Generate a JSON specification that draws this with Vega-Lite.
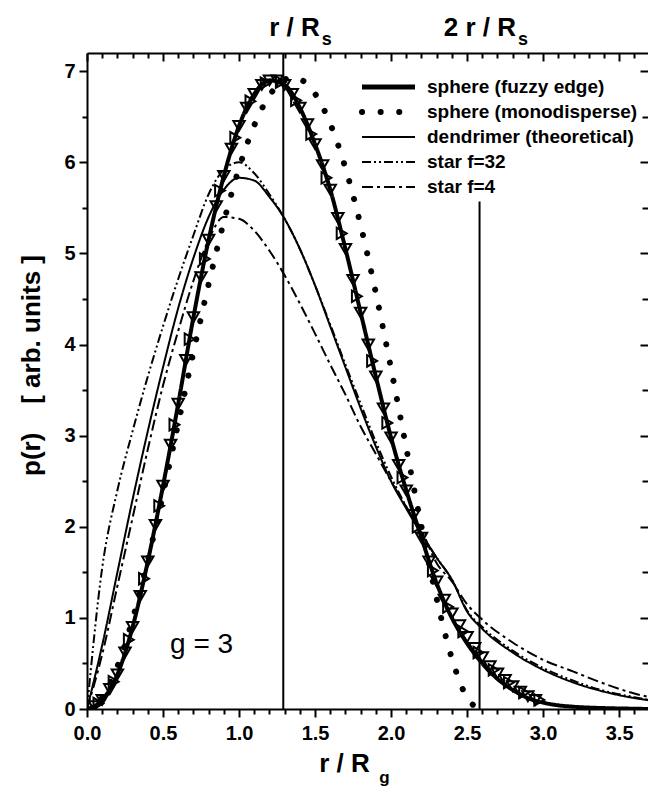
{
 "$schema": "https://vega.github.io/schema/vega-lite/v6.json",
 "width": 561, "height": 656,
 "autosize": {"type": "none"},
 "padding": {"left": 87, "top": 53, "right": 0, "bottom": 80},
 "background": "white",
 "config": {
  "view": {"stroke": null},
  "font": "Liberation Sans",
  "axis": {"grid": false, "domainColor": "black", "tickColor": "black", "labelColor": "black", "titleColor": "black", "domainWidth": 2, "tickWidth": 2, "labelFont": "Liberation Sans", "labelFontWeight": "bold", "labelFontSize": 20, "titleFont": "Liberation Sans", "titleFontWeight": "bold", "titleFontSize": 22}
 },
 "datasets": {
  "curves": [
   {"s":"sphere (fuzzy edge)","x":0,"y":0},{"s":"sphere (fuzzy edge)","x":0.1,"y":0.1},{"s":"sphere (fuzzy edge)","x":0.2,"y":0.38},{"s":"sphere (fuzzy edge)","x":0.3,"y":0.9},{"s":"sphere (fuzzy edge)","x":0.4,"y":1.62},{"s":"sphere (fuzzy edge)","x":0.5,"y":2.45},{"s":"sphere (fuzzy edge)","x":0.6,"y":3.35},{"s":"sphere (fuzzy edge)","x":0.7,"y":4.3},{"s":"sphere (fuzzy edge)","x":0.8,"y":5.15},{"s":"sphere (fuzzy edge)","x":0.9,"y":5.85},{"s":"sphere (fuzzy edge)","x":1.0,"y":6.4},{"s":"sphere (fuzzy edge)","x":1.1,"y":6.75},{"s":"sphere (fuzzy edge)","x":1.2,"y":6.9},{"s":"sphere (fuzzy edge)","x":1.3,"y":6.85},{"s":"sphere (fuzzy edge)","x":1.4,"y":6.6},{"s":"sphere (fuzzy edge)","x":1.5,"y":6.2},{"s":"sphere (fuzzy edge)","x":1.6,"y":5.7},{"s":"sphere (fuzzy edge)","x":1.7,"y":5.05},{"s":"sphere (fuzzy edge)","x":1.8,"y":4.35},{"s":"sphere (fuzzy edge)","x":1.9,"y":3.65},{"s":"sphere (fuzzy edge)","x":2.0,"y":2.98},{"s":"sphere (fuzzy edge)","x":2.1,"y":2.4},{"s":"sphere (fuzzy edge)","x":2.2,"y":1.88},{"s":"sphere (fuzzy edge)","x":2.3,"y":1.38},{"s":"sphere (fuzzy edge)","x":2.4,"y":1.0},{"s":"sphere (fuzzy edge)","x":2.5,"y":0.72},{"s":"sphere (fuzzy edge)","x":2.6,"y":0.5},{"s":"sphere (fuzzy edge)","x":2.7,"y":0.33},{"s":"sphere (fuzzy edge)","x":2.8,"y":0.21},{"s":"sphere (fuzzy edge)","x":2.9,"y":0.12},{"s":"sphere (fuzzy edge)","x":3.0,"y":0.07},{"s":"sphere (fuzzy edge)","x":3.1,"y":0.04},{"s":"sphere (fuzzy edge)","x":3.2,"y":0.025},{"s":"sphere (fuzzy edge)","x":3.4,"y":0.01},{"s":"sphere (fuzzy edge)","x":3.6,"y":0.003},{"s":"sphere (fuzzy edge)","x":3.7,"y":0},
   {"s":"sphere (monodisperse)","x":0,"y":0},{"s":"sphere (monodisperse)","x":0.1,"y":0.125},{"s":"sphere (monodisperse)","x":0.2,"y":0.468},{"s":"sphere (monodisperse)","x":0.3,"y":0.985},{"s":"sphere (monodisperse)","x":0.4,"y":1.631},{"s":"sphere (monodisperse)","x":0.5,"y":2.361},{"s":"sphere (monodisperse)","x":0.6,"y":3.136},{"s":"sphere (monodisperse)","x":0.7,"y":3.915},{"s":"sphere (monodisperse)","x":0.8,"y":4.663},{"s":"sphere (monodisperse)","x":0.9,"y":5.346},{"s":"sphere (monodisperse)","x":1.0,"y":5.935},{"s":"sphere (monodisperse)","x":1.1,"y":6.405},{"s":"sphere (monodisperse)","x":1.2,"y":6.734},{"s":"sphere (monodisperse)","x":1.3,"y":6.908},{"s":"sphere (monodisperse)","x":1.356,"y":6.933},{"s":"sphere (monodisperse)","x":1.4,"y":6.915},{"s":"sphere (monodisperse)","x":1.5,"y":6.753},{"s":"sphere (monodisperse)","x":1.6,"y":6.424},{"s":"sphere (monodisperse)","x":1.7,"y":5.937},{"s":"sphere (monodisperse)","x":1.8,"y":5.308},{"s":"sphere (monodisperse)","x":1.9,"y":4.564},{"s":"sphere (monodisperse)","x":2.0,"y":3.735},{"s":"sphere (monodisperse)","x":2.1,"y":2.864},{"s":"sphere (monodisperse)","x":2.2,"y":2.001},{"s":"sphere (monodisperse)","x":2.3,"y":1.209},{"s":"sphere (monodisperse)","x":2.4,"y":0.555},{"s":"sphere (monodisperse)","x":2.5,"y":0.124},{"s":"sphere (monodisperse)","x":2.582,"y":0},
   {"s":"dendrimer (theoretical)","x":0,"y":0},{"s":"dendrimer (theoretical)","x":0.1,"y":0.7},{"s":"dendrimer (theoretical)","x":0.2,"y":1.5},{"s":"dendrimer (theoretical)","x":0.3,"y":2.3},{"s":"dendrimer (theoretical)","x":0.4,"y":3.05},{"s":"dendrimer (theoretical)","x":0.5,"y":3.75},{"s":"dendrimer (theoretical)","x":0.6,"y":4.4},{"s":"dendrimer (theoretical)","x":0.7,"y":4.95},{"s":"dendrimer (theoretical)","x":0.8,"y":5.4},{"s":"dendrimer (theoretical)","x":0.9,"y":5.7},{"s":"dendrimer (theoretical)","x":1.0,"y":5.83},{"s":"dendrimer (theoretical)","x":1.1,"y":5.8},{"s":"dendrimer (theoretical)","x":1.2,"y":5.62},{"s":"dendrimer (theoretical)","x":1.3,"y":5.38},{"s":"dendrimer (theoretical)","x":1.4,"y":5.05},{"s":"dendrimer (theoretical)","x":1.5,"y":4.65},{"s":"dendrimer (theoretical)","x":1.6,"y":4.2},{"s":"dendrimer (theoretical)","x":1.7,"y":3.75},{"s":"dendrimer (theoretical)","x":1.8,"y":3.3},{"s":"dendrimer (theoretical)","x":1.9,"y":2.88},{"s":"dendrimer (theoretical)","x":2.0,"y":2.5},{"s":"dendrimer (theoretical)","x":2.1,"y":2.2},{"s":"dendrimer (theoretical)","x":2.2,"y":1.92},{"s":"dendrimer (theoretical)","x":2.3,"y":1.66},{"s":"dendrimer (theoretical)","x":2.4,"y":1.42},{"s":"dendrimer (theoretical)","x":2.5,"y":1.07},{"s":"dendrimer (theoretical)","x":2.6,"y":0.88},{"s":"dendrimer (theoretical)","x":2.8,"y":0.62},{"s":"dendrimer (theoretical)","x":3.0,"y":0.43},{"s":"dendrimer (theoretical)","x":3.2,"y":0.29},{"s":"dendrimer (theoretical)","x":3.4,"y":0.19},{"s":"dendrimer (theoretical)","x":3.6,"y":0.12},{"s":"dendrimer (theoretical)","x":3.7,"y":0.095},
   {"s":"star f=32","x":0,"y":0},{"s":"star f=32","x":0.1,"y":1.55},{"s":"star f=32","x":0.2,"y":2.4},{"s":"star f=32","x":0.3,"y":3.05},{"s":"star f=32","x":0.4,"y":3.65},{"s":"star f=32","x":0.5,"y":4.2},{"s":"star f=32","x":0.6,"y":4.72},{"s":"star f=32","x":0.7,"y":5.2},{"s":"star f=32","x":0.8,"y":5.65},{"s":"star f=32","x":0.9,"y":5.92},{"s":"star f=32","x":1.0,"y":6.0},{"s":"star f=32","x":1.1,"y":5.88},{"s":"star f=32","x":1.2,"y":5.65},{"s":"star f=32","x":1.3,"y":5.38},{"s":"star f=32","x":1.4,"y":5.05},{"s":"star f=32","x":1.5,"y":4.65},{"s":"star f=32","x":1.6,"y":4.22},{"s":"star f=32","x":1.7,"y":3.78},{"s":"star f=32","x":1.8,"y":3.35},{"s":"star f=32","x":1.9,"y":2.93},{"s":"star f=32","x":2.0,"y":2.55},{"s":"star f=32","x":2.1,"y":2.22},{"s":"star f=32","x":2.2,"y":1.93},{"s":"star f=32","x":2.3,"y":1.66},{"s":"star f=32","x":2.4,"y":1.42},{"s":"star f=32","x":2.5,"y":1.08},{"s":"star f=32","x":2.6,"y":0.9},{"s":"star f=32","x":2.8,"y":0.64},{"s":"star f=32","x":3.0,"y":0.45},{"s":"star f=32","x":3.2,"y":0.31},{"s":"star f=32","x":3.4,"y":0.2},{"s":"star f=32","x":3.6,"y":0.13},{"s":"star f=32","x":3.7,"y":0.1},
   {"s":"star f=4","x":0,"y":0},{"s":"star f=4","x":0.1,"y":0.6},{"s":"star f=4","x":0.2,"y":1.35},{"s":"star f=4","x":0.3,"y":2.1},{"s":"star f=4","x":0.4,"y":2.85},{"s":"star f=4","x":0.5,"y":3.55},{"s":"star f=4","x":0.6,"y":4.15},{"s":"star f=4","x":0.7,"y":4.7},{"s":"star f=4","x":0.8,"y":5.15},{"s":"star f=4","x":0.9,"y":5.4},{"s":"star f=4","x":1.0,"y":5.38},{"s":"star f=4","x":1.1,"y":5.25},{"s":"star f=4","x":1.2,"y":5.03},{"s":"star f=4","x":1.3,"y":4.76},{"s":"star f=4","x":1.4,"y":4.45},{"s":"star f=4","x":1.5,"y":4.12},{"s":"star f=4","x":1.6,"y":3.78},{"s":"star f=4","x":1.7,"y":3.45},{"s":"star f=4","x":1.8,"y":3.1},{"s":"star f=4","x":1.9,"y":2.8},{"s":"star f=4","x":2.0,"y":2.5},{"s":"star f=4","x":2.1,"y":2.22},{"s":"star f=4","x":2.2,"y":1.96},{"s":"star f=4","x":2.3,"y":1.6},{"s":"star f=4","x":2.4,"y":1.4},{"s":"star f=4","x":2.5,"y":1.15},{"s":"star f=4","x":2.6,"y":0.98},{"s":"star f=4","x":2.8,"y":0.73},{"s":"star f=4","x":3.0,"y":0.54},{"s":"star f=4","x":3.2,"y":0.41},{"s":"star f=4","x":3.4,"y":0.28},{"s":"star f=4","x":3.6,"y":0.17},{"s":"star f=4","x":3.7,"y":0.13}
  ],
  "down": [
   {"x":0.05,"y":0.03},{"x":0.1,"y":0.1},{"x":0.15,"y":0.22},{"x":0.2,"y":0.38},{"x":0.25,"y":0.62},{"x":0.3,"y":0.9},{"x":0.35,"y":1.24},{"x":0.4,"y":1.62},{"x":0.45,"y":2.02},{"x":0.5,"y":2.45},{"x":0.55,"y":2.9},{"x":0.6,"y":3.35},{"x":0.65,"y":3.83},{"x":0.7,"y":4.3},{"x":0.75,"y":4.74},{"x":0.8,"y":5.15},{"x":0.85,"y":5.52},{"x":0.9,"y":5.85},{"x":0.95,"y":6.15},{"x":1.0,"y":6.4},{"x":1.05,"y":6.6},{"x":1.1,"y":6.75},{"x":1.15,"y":6.85},{"x":1.2,"y":6.9},{"x":1.25,"y":6.9},{"x":1.3,"y":6.85},{"x":1.35,"y":6.75},{"x":1.4,"y":6.6},{"x":1.45,"y":6.42},{"x":1.5,"y":6.2},{"x":1.55,"y":5.97},{"x":1.6,"y":5.7},{"x":1.65,"y":5.39},{"x":1.7,"y":5.05},{"x":1.75,"y":4.71},{"x":1.8,"y":4.35},{"x":1.85,"y":4.0},{"x":1.9,"y":3.65},{"x":1.95,"y":3.3},{"x":2.0,"y":2.98},{"x":2.05,"y":2.68},{"x":2.1,"y":2.4},{"x":2.15,"y":2.13},{"x":2.2,"y":1.88},{"x":2.25,"y":1.62},{"x":2.3,"y":1.4},{"x":2.35,"y":1.2},{"x":2.4,"y":1.05},{"x":2.45,"y":0.92},{"x":2.5,"y":0.79},{"x":2.55,"y":0.67},{"x":2.6,"y":0.57},{"x":2.65,"y":0.47},{"x":2.7,"y":0.39},{"x":2.75,"y":0.32},{"x":2.8,"y":0.25},{"x":2.85,"y":0.19},{"x":2.9,"y":0.14},{"x":2.95,"y":0.1}
  ],
  "right": [
   {"x":0.075,"y":0.06},{"x":0.175,"y":0.3},{"x":0.275,"y":0.76},{"x":0.375,"y":1.43},{"x":0.475,"y":2.23},{"x":0.575,"y":3.12},{"x":0.675,"y":4.06},{"x":0.775,"y":4.94},{"x":0.875,"y":5.69},{"x":0.975,"y":6.27},{"x":1.075,"y":6.67},{"x":1.175,"y":6.87},{"x":1.275,"y":6.88},{"x":1.375,"y":6.68},{"x":1.475,"y":6.31},{"x":1.575,"y":5.83},{"x":1.675,"y":5.22},{"x":1.775,"y":4.53},{"x":1.875,"y":3.82},{"x":1.975,"y":3.14},{"x":2.075,"y":2.54},{"x":2.175,"y":2.0},{"x":2.275,"y":1.52},{"x":2.375,"y":1.12},{"x":2.475,"y":0.85},{"x":2.575,"y":0.62},{"x":2.675,"y":0.43},{"x":2.775,"y":0.29},{"x":2.875,"y":0.18},{"x":2.975,"y":0.1}
  ],
  "vlines": [{"x":1.291,"y0":0,"y1":7.2},{"x":2.582,"y0":0,"y1":5.57}],
  "notes": [{"x":0.754,"y":0.7,"t":"g = 3"}]
 },
 "resolve": {"axis": {"x": "independent", "y": "independent"}},
 "layer": [
  {
   "data": {"name": "curves"},
   "transform": [{"filter": "datum.s === 'sphere (fuzzy edge)'"}],
   "mark": {"type": "line", "interpolate": "monotone", "color": "black", "strokeWidth": 4, "clip": true},
   "encoding": {
    "x": {"field": "x", "type": "quantitative", "scale": {"domain": [0, 3.69], "nice": false, "zero": false},
     "axis": {"orient": "bottom", "values": [0,0.5,1,1.5,2,2.5,3,3.5], "format": ".1f", "tickSize": 8, "labelPadding": 6, "title": "r / R", "titleFontSize": 26, "titleX": 257, "titleY": 62, "titleBaseline": "alphabetic", "titleAlign": "center", "labelFlush": false}},
    "y": {"field": "y", "type": "quantitative", "scale": {"domain": [0, 7.2], "nice": false},
     "axis": {"orient": "left", "values": [0,1,2,3,4,5,6,7], "format": "d", "tickSize": 8, "labelPadding": 4, "title": "p(r)\u00a0\u00a0\u00a0 [ arb. units ]", "titleX": -56, "titleY": 312, "titleAngle": -90, "titleBaseline": "middle", "titleAlign": "center", "titleFontSize": 26, "labelFlush": false}},
    "strokeDash": {"field": "s", "type": "nominal",
     "scale": {"domain": ["sphere (fuzzy edge)", "sphere (monodisperse)", "dendrimer (theoretical)", "star f=32", "star f=4"], "range": [[1,0],[0.1,18.5],[1,0],[9,3,2,3,2,3],[11,4,3,4]]},
     "legend": {"orient": "none", "legendX": 270, "legendY": 22, "title": null, "symbolType": "stroke", "symbolSize": 2809, "symbolStrokeWidth": 2, "symbolStrokeColor": "black", "symbolOffset": 22, "clipHeight": 24.2, "labelFontSize": 19, "labelFontWeight": "bold", "labelFont": "Liberation Sans", "labelColor": "black", "labelOffset": 29, "rowPadding": 0, "labelLimit": 400,
      "encoding": {"symbols": {"size": {"value": 2809}, "strokeWidth": {"value": {"expr": "datum.value === 'sphere (fuzzy edge)' ? 5 : datum.value === 'sphere (monodisperse)' ? 6 : 2"}}, "strokeCap": {"value": {"expr": "datum.value === 'sphere (monodisperse)' ? 'round' : 'butt'"}}}}}}
   }
  },
  {
   "data": {"name": "curves"},
   "transform": [{"filter": "datum.s === 'sphere (monodisperse)'"}],
   "mark": {"type": "line", "interpolate": "monotone", "color": "black", "strokeWidth": 6, "strokeCap": "round", "clip": true},
   "encoding": {
    "x": {"field": "x", "type": "quantitative", "axis": {"orient": "bottom", "values": [0.1,0.2,0.3,0.4,0.6,0.7,0.8,0.9,1.1,1.2,1.3,1.4,1.6,1.7,1.8,1.9,2.1,2.2,2.3,2.4,2.6,2.7,2.8,2.9,3.1,3.2,3.3,3.4,3.6], "tickSize": 5, "labels": false, "domain": false, "title": "g", "titleX": 297, "titleY": 73, "titleBaseline": "alphabetic", "titleAlign": "center", "titleFontSize": 17}},
    "y": {"field": "y", "type": "quantitative", "axis": {"orient": "left", "values": [0.5,1.5,2.5,3.5,4.5,5.5,6.5], "tickSize": 5, "labels": false, "domain": false, "title": null}},
    "strokeDash": {"field": "s", "type": "nominal",
     "legend": {"orient": "none", "legendX": 270, "legendY": 22, "title": null, "symbolType": "stroke", "symbolSize": 2809, "symbolStrokeWidth": 2, "symbolStrokeColor": "black", "symbolOffset": 22, "clipHeight": 24.2, "labelFontSize": 19, "labelFontWeight": "bold", "labelFont": "Liberation Sans", "labelColor": "black", "labelOffset": 29, "rowPadding": 0, "labelLimit": 400,
      "encoding": {"symbols": {"size": {"value": 2809}, "strokeWidth": {"value": {"expr": "datum.value === 'sphere (fuzzy edge)' ? 5 : datum.value === 'sphere (monodisperse)' ? 6 : 2"}}, "strokeCap": {"value": {"expr": "datum.value === 'sphere (monodisperse)' ? 'round' : 'butt'"}}}}}}
   }
  },
  {
   "data": {"name": "curves"},
   "transform": [{"filter": "datum.s !== 'sphere (monodisperse)' && datum.s !== 'sphere (fuzzy edge)'"}],
   "mark": {"type": "line", "interpolate": "monotone", "color": "black", "strokeWidth": 2, "clip": true},
   "encoding": {
    "x": {"field": "x", "type": "quantitative", "axis": {"orient": "top", "values": [0,0.5,1,1.5,2,2.5,3,3.5], "tickSize": -8, "labels": false, "domain": true, "title": null}},
    "y": {"field": "y", "type": "quantitative", "axis": {"orient": "right", "values": [1,2,3,4,5,6,7], "tickSize": -8, "labels": false, "domain": false, "title": null}},
    "strokeDash": {"field": "s", "type": "nominal",
     "legend": {"orient": "none", "legendX": 270, "legendY": 22, "title": null, "symbolType": "stroke", "symbolSize": 2809, "symbolStrokeWidth": 2, "symbolStrokeColor": "black", "symbolOffset": 22, "clipHeight": 24.2, "labelFontSize": 19, "labelFontWeight": "bold", "labelFont": "Liberation Sans", "labelColor": "black", "labelOffset": 29, "rowPadding": 0, "labelLimit": 400,
      "encoding": {"symbols": {"size": {"value": 2809}, "strokeWidth": {"value": {"expr": "datum.value === 'sphere (fuzzy edge)' ? 5 : datum.value === 'sphere (monodisperse)' ? 6 : 2"}}, "strokeCap": {"value": {"expr": "datum.value === 'sphere (monodisperse)' ? 'round' : 'butt'"}}}}}}
   }
  },
  {
   "data": {"name": "down"},
   "mark": {"type": "point", "shape": "triangle-down", "filled": false, "stroke": "black", "strokeWidth": 2, "size": 130, "opacity": 1, "clip": true},
   "encoding": {
    "x": {"field": "x", "type": "quantitative", "axis": {"orient": "top", "values": [0.1,0.2,0.3,0.4,0.6,0.7,0.8,0.9,1.1,1.2,1.3,1.4,1.6,1.7,1.8,1.9,2.1,2.2,2.3,2.4,2.6,2.7,2.8,2.9,3.1,3.2,3.3,3.4,3.6], "tickSize": -5, "labels": false, "domain": false, "title": null}},
    "y": {"field": "y", "type": "quantitative", "axis": {"orient": "right", "values": [0.5,1.5,2.5,3.5,4.5,5.5,6.5], "tickSize": -6, "labels": false, "domain": false, "title": null}}
   }
  },
  {
   "data": {"name": "right"},
   "mark": {"type": "point", "shape": "triangle-right", "filled": false, "stroke": "black", "strokeWidth": 2, "size": 130, "opacity": 1, "clip": true},
   "encoding": {
    "x": {"field": "x", "type": "quantitative", "axis": {"orient": "top", "values": [1.291, 2.582], "ticks": false, "domain": false, "labelPadding": 18, "labelOffset": 36, "labelAlign": "right", "labelFontSize": 26, "labelBaseline": "alphabetic", "labelExpr": "datum.value < 2 ? 'r / R' : '2 r / R'", "title": null}},
    "y": {"field": "y", "type": "quantitative", "axis": null}
   }
  },
  {
   "data": {"name": "vlines"},
   "mark": {"type": "rule", "color": "black", "strokeWidth": 2},
   "encoding": {
    "x": {"field": "x", "type": "quantitative", "axis": {"orient": "top", "values": [1.291, 2.582], "ticks": false, "domain": false, "labelPadding": 9, "labelOffset": 38, "labelAlign": "left", "labelFontSize": 18, "labelBaseline": "alphabetic", "labelExpr": "'s'", "title": null}},
    "y": {"field": "y0", "type": "quantitative", "axis": null},
    "y2": {"field": "y1"}
   }
  },
  {
   "data": {"name": "notes"},
   "mark": {"type": "text", "font": "Liberation Sans", "fontSize": 28, "color": "black", "align": "center", "baseline": "middle"},
   "encoding": {
    "x": {"field": "x", "type": "quantitative", "axis": null},
    "y": {"field": "y", "type": "quantitative", "axis": null},
    "text": {"field": "t"}
   }
  }
 ]
}
